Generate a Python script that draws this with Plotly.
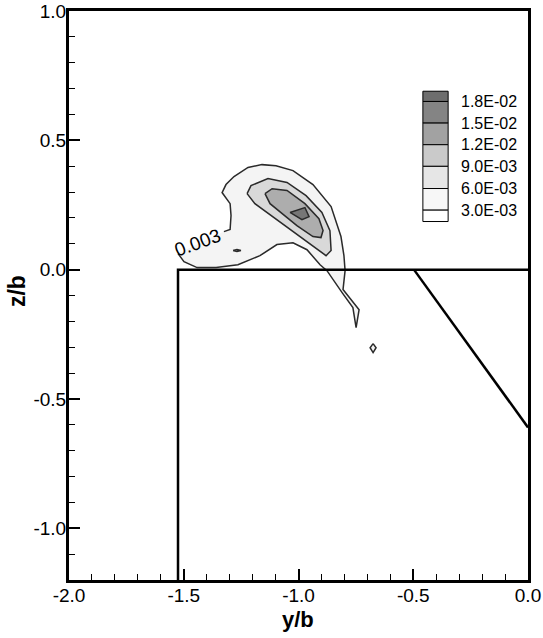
import plotly.graph_objects as go

# ---- data (y/b, z/b) ----
outer_y = [-1.325, -1.298, -1.294, -1.298, -1.333, -1.316, -1.281, -1.220, -1.159, -1.098,
           -1.024, -0.937, -0.858, -0.815, -0.802, -0.797, -0.806, -0.736, -0.749, -0.763,
           -0.810, -0.841, -0.876, -0.906, -0.963, -1.024, -1.094, -1.168, -1.264, -1.359,
           -1.442, -1.499, -1.525]
outer_z = [0.147, 0.155, 0.209, 0.255, 0.298, 0.329, 0.360, 0.395, 0.406, 0.402,
           0.383, 0.329, 0.244, 0.128, 0.054, -0.004, -0.077, -0.155, -0.224, -0.147,
           -0.089, -0.050, -0.004, 0.019, 0.077, 0.104, 0.097, 0.054, 0.019, 0.008,
           0.008, 0.031, 0.062]

c2_y = [-1.224, -1.207, -1.133, -1.050, -0.967, -0.898, -0.863, -0.858, -0.880, -0.946,
        -1.033, -1.115, -1.190]
c2_z = [0.294, 0.325, 0.352, 0.337, 0.286, 0.221, 0.151, 0.074, 0.054, 0.097,
        0.155, 0.205, 0.255]

c3_y = [-1.146, -1.115, -1.050, -0.972, -0.911, -0.893, -0.902, -0.937, -1.007, -1.072, -1.124]
c3_z = [0.294, 0.313, 0.306, 0.255, 0.197, 0.151, 0.124, 0.128, 0.170, 0.217, 0.255]

core_y = [-1.037, -0.972, -0.954, -0.985]
core_z = [0.221, 0.240, 0.205, 0.193]

island_y = [-1.285, -1.268, -1.251, -1.268]
island_z = [0.074, 0.078, 0.074, 0.070]

diamond_y = [-0.675, -0.662, -0.675, -0.688]
diamond_z = [-0.286, -0.302, -0.321, -0.302]

body_y = [-1.525, -1.525, 0.0]
body_z = [-1.2, 0.0, 0.0]
edge_y = [-0.497, 0.0]
edge_z = [0.0, -0.61]

levels = [1.8e-2, 1.5e-2, 1.2e-2, 9.0e-3, 6.0e-3, 3.0e-3]
level_labels = ["1.8E-02", "1.5E-02", "1.2E-02", "9.0E-03", "6.0E-03", "3.0E-03"]
band_colors = ["#6e6e6e", "#848484", "#a2a2a2", "#cacaca", "#e6e6e6", "#f7f7f7", "#ffffff"]

x_ticks = [-2.0, -1.5, -1.0, -0.5, 0.0]
x_labels = ["-2.0", "-1.5", "-1.0", "-0.5", "0.0"]
y_ticks = [1.0, 0.5, 0.0, -0.5, -1.0]
y_labels = ["1.0", "0.5", "0.0", "-0.5", "-1.0"]

LINE = "#2a2a2a"
FONT = "Liberation Sans, Arial"

def closed(a):
    return list(a) + [a[0]]

fig = go.Figure()
fig.add_trace(go.Scatter(x=closed(outer_y), y=closed(outer_z), mode="lines", fill="toself",
                         fillcolor="#f4f4f4", line=dict(width=0), hoverinfo="skip"))
fig.add_trace(go.Scatter(x=outer_y, y=outer_z, mode="lines",
                         line=dict(color=LINE, width=1.5), hoverinfo="skip"))
for xs, zs, col in [(c2_y, c2_z, "#d9d9d9"), (c3_y, c3_z, "#adadad"),
                    (core_y, core_z, "#767676"), (island_y, island_z, "#f4f4f4"),
                    (diamond_y, diamond_z, "#f4f4f4")]:
    fig.add_trace(go.Scatter(x=closed(xs), y=closed(zs), mode="lines", fill="toself",
                             fillcolor=col, line=dict(color=LINE, width=1.5), hoverinfo="skip"))

fig.add_trace(go.Scatter(x=body_y, y=body_z, mode="lines",
                         line=dict(color="black", width=2.5), hoverinfo="skip"))
fig.add_trace(go.Scatter(x=edge_y, y=edge_z, mode="lines",
                         line=dict(color="black", width=2.5), hoverinfo="skip"))

fig.add_annotation(x=-1.438, y=0.104, text="0.003", showarrow=False, textangle=-20,
                   font=dict(family=FONT, size=19, color="black"))

# legend (paper coords)
x0, x1 = 0.771, 0.826
top, bot = 0.859, 0.630
bounds = [0.841, 0.803, 0.765, 0.727, 0.688, 0.650]
edges = [top] + bounds + [bot]
shapes = []
for i, col in enumerate(band_colors):
    shapes.append(dict(type="rect", xref="paper", yref="paper", x0=x0, x1=x1,
                       y0=edges[i + 1], y1=edges[i], fillcolor=col,
                       line=dict(color="black", width=1)))
fig.update_layout(shapes=shapes)
for b, lab in zip(bounds, level_labels):
    fig.add_annotation(xref="paper", yref="paper", x=0.85, y=b, text=lab, showarrow=False,
                       xanchor="left", yanchor="middle",
                       font=dict(family=FONT, size=16, color="black"))

# axis titles
fig.add_annotation(xref="paper", yref="paper", x=0.498, y=-0.069, text="<b>y/b</b>",
                   showarrow=False, xanchor="center", yanchor="middle",
                   font=dict(family=FONT, size=22, color="black"))
fig.add_annotation(xref="paper", yref="paper", x=-0.113, y=0.508, text="<b>z/b</b>",
                   showarrow=False, textangle=-90, xanchor="center", yanchor="middle",
                   font=dict(family=FONT, size=23, color="black"))

axis_common = dict(showgrid=False, zeroline=False, showline=True, linecolor="black",
                   linewidth=3, mirror=True, ticks="inside", ticklen=11, tickwidth=2,
                   tickcolor="black", automargin=False,
                   tickfont=dict(family=FONT, size=19, color="black"),
                   minor=dict(ticks="inside", ticklen=6, tickwidth=1, tickcolor="black", dtick=0.1))

fig.update_xaxes(range=[-2.0, 0.0], tickvals=x_ticks, ticktext=x_labels,
                 ticklabelstandoff=-4, **axis_common)
fig.update_yaxes(range=[-1.2, 1.0], tickvals=y_ticks, ticktext=y_labels,
                 ticklabelstandoff=-4, **axis_common)

fig.update_layout(width=543, height=638, margin=dict(l=69, r=15, t=11, b=58),
                  paper_bgcolor="white", plot_bgcolor="white", showlegend=False)

fig.write_html("out.html")
